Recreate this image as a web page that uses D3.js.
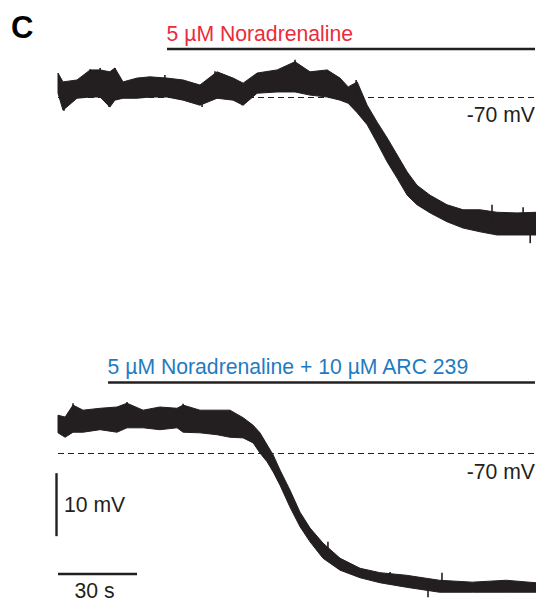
<!DOCTYPE html>
<html><head><meta charset="utf-8">
<script src="https://cdn.jsdelivr.net/npm/d3@7"></script>
<style>html,body{margin:0;padding:0;background:#fff;}svg{display:block;}</style>
</head><body>
<svg id="chart" width="536" height="606"></svg>
<script>
// ---- data (time in s, membrane potential in mV; upper/lower envelope of the noisy trace) ----
const panelLetter = "C";
const topLabel = "5 µM Noradrenaline";
const bottomLabel = "5 µM Noradrenaline + 10 µM ARC 239";
const refLabel = "-70 mV";
const refPotential = -70;
const recordingEnd = 181.5;
const topDrugStart = 41.4;
const bottomDrugStart = 19.0;
const scaleBarMV = 10;
const scaleBarS = 30;
const scaleBarLabels = ["10 mV", "30 s"];

const topTime  = [0,1.9,7.2,12.2,16.0,19.7,21.6,24.7,30.0,34.9,41.4,47.5,53.9,60.4,66.5,70.3,75.6,83.2,90.0,95.7,102.2,107.1,110.2,113.6,117.4,121.2,125.0,128.8,132.6,136.3,141.3,147.7,153.8,160.3,166.7,174.3,181.5];
const topUpper = [-66.2,-67.6,-67.3,-65.7,-65.7,-66.0,-65.4,-67.6,-67.0,-66.8,-67.0,-67.3,-68.1,-66.0,-67.0,-67.8,-66.2,-65.7,-64.4,-66.0,-65.7,-67.0,-68.4,-67.6,-71.3,-74.0,-76.5,-79.2,-81.9,-84.0,-85.6,-87.1,-87.9,-87.9,-88.3,-88.4,-88.3];
const topLower = [-69.4,-72.1,-70.2,-70.0,-70.0,-71.6,-70.5,-70.2,-70.2,-70.0,-70.0,-70.5,-71.3,-70.2,-70.5,-71.3,-69.4,-69.2,-69.2,-69.7,-70.0,-70.5,-71.0,-72.5,-74.4,-77.3,-80.3,-82.9,-85.6,-87.1,-88.4,-89.8,-90.8,-91.4,-91.9,-91.9,-91.9];
// individual noise spikes: [time s, peak mV]
const topSpikes = [[2.3,-72.2],[12.2,-65.6],[16.0,-65.4],[19.4,-71.6],[21.6,-65.4],[40.6,-66.5],[54.7,-71.6],[59.6,-65.9],[69.9,-71.3],[80.5,-65.9],[90.0,-64.1],[102.2,-65.7],[113.2,-67.3],[164.8,-87.1],[176.6,-87.5],[179.3,-93.2]];

const bottomTime  = [0,2.7,5.7,9.5,16.0,22.4,26.2,32.3,38.7,45.2,47.5,53.9,60.4,65.3,70.3,74.1,76.7,79.4,81.7,84.3,88.1,91.9,95.7,100.6,107.1,114.7,122.3,132.2,144.8,157.3,170.2,181.5];
const bottomUpper = [-64.0,-64.3,-62.4,-63.2,-62.9,-62.7,-62.1,-63.2,-62.7,-62.9,-62.4,-63.2,-63.2,-63.2,-64.4,-65.6,-66.8,-68.7,-70.3,-72.7,-75.9,-79.4,-81.9,-84.3,-86.7,-88.3,-89.0,-89.4,-90.2,-90.5,-90.2,-90.6];
const bottomLower = [-66.8,-67.5,-66.7,-66.7,-66.3,-66.7,-66.0,-66.0,-66.3,-66.0,-66.7,-66.8,-67.1,-67.5,-67.6,-68.4,-70.0,-71.4,-73.0,-75.1,-78.6,-81.7,-84.1,-86.7,-88.6,-89.8,-90.6,-91.3,-92.1,-92.1,-92.1,-92.1];
const bottomSpikes = [[5.7,-62.1],[26.2,-61.9],[47.5,-62.2],[102.5,-84.1],[126.1,-88.9],[140.5,-92.9],[145.8,-89.0]];

// ---- drawing ----
const svg = d3.select("#chart");
const FONT = "'Liberation Sans', Arial, Helvetica, sans-serif";
const FS = 21.2;
const traceColor = "#231f20";
const red = "#ec2b3a", blue = "#1f7bc1";

const x = d3.scaleLinear().domain([0, recordingEnd]).range([58, 536]);
const yTop = d3.scaleLinear().domain([-70, -90]).range([97, 223]);
const yBot = d3.scaleLinear().domain([-70, -90]).range([453, 579]);

function drawTrace(time, upper, lower, spikes, y) {
  const rows = time.map((t, i) => ({t, u: upper[i], l: lower[i]}));
  const area = d3.area().x(d => x(d.t)).y0(d => y(d.l)).y1(d => y(d.u)).curve(d3.curveLinear);
  svg.append("path").datum(rows).attr("d", area)
    .attr("fill", traceColor).attr("stroke", traceColor).attr("stroke-width", 1).attr("stroke-linejoin", "round");
  const mid = d3.scaleLinear().domain(time).range(time.map((t, i) => (upper[i] + lower[i]) / 2));
  svg.append("g").selectAll("line").data(spikes).join("line")
    .attr("x1", d => x(d[0])).attr("x2", d => x(d[0]))
    .attr("y1", d => y(mid(d[0]))).attr("y2", d => y(d[1]))
    .attr("stroke", traceColor).attr("stroke-width", 1.6);
}

function drawPanel(y, time, upper, lower, spikes, drugStart, label, color, labelBaseline, refBaseline) {
  svg.append("line").attr("x1", x(0)).attr("x2", x(recordingEnd))
    .attr("y1", y(refPotential) + 0.5).attr("y2", y(refPotential) + 0.5)
    .attr("stroke", "#231f20").attr("stroke-width", 1).attr("stroke-dasharray", "6,4");
  drawTrace(time, upper, lower, spikes, y);
  const barY = labelBaseline + 8.5;
  svg.append("line").attr("x1", x(drugStart)).attr("x2", x(recordingEnd) - 1)
    .attr("y1", barY).attr("y2", barY).attr("stroke", "#231f20").attr("stroke-width", 2.6);
  svg.append("text").attr("x", x(drugStart) - 0.5).attr("y", labelBaseline)
    .attr("fill", color).attr("font-family", FONT).attr("font-size", FS).text(label);
  svg.append("text").attr("x", 535).attr("y", refBaseline).attr("text-anchor", "end")
    .attr("fill", "#231f20").attr("font-family", FONT).attr("font-size", FS).text(refLabel);
}

svg.append("text").attr("x", 11).attr("y", 37.5).attr("font-family", FONT)
  .attr("font-weight", "bold").attr("font-size", 31).attr("fill", "#000").text(panelLetter);

drawPanel(yTop, topTime, topUpper, topLower, topSpikes, topDrugStart, topLabel, red, 40.5, 122);
drawPanel(yBot, bottomTime, bottomUpper, bottomLower, bottomSpikes, bottomDrugStart, bottomLabel, blue, 374, 479);

// scale bars
const vbTop = -73.2;
svg.append("line").attr("x1", 56.5).attr("x2", 56.5)
  .attr("y1", yBot(vbTop)).attr("y2", yBot(vbTop - scaleBarMV))
  .attr("stroke", "#231f20").attr("stroke-width", 2.4);
svg.append("text").attr("x", 64).attr("y", 512).attr("font-family", FONT)
  .attr("font-size", FS).attr("fill", "#231f20").text(scaleBarLabels[0]);
svg.append("line").attr("x1", x(0)).attr("x2", x(scaleBarS))
  .attr("y1", 574).attr("y2", 574).attr("stroke", "#231f20").attr("stroke-width", 2.4);
svg.append("text").attr("x", (x(0) + x(scaleBarS)) / 2 - 3).attr("y", 598).attr("text-anchor", "middle")
  .attr("font-family", FONT).attr("font-size", FS).attr("fill", "#231f20").text(scaleBarLabels[1]);
</script>
</body></html>
